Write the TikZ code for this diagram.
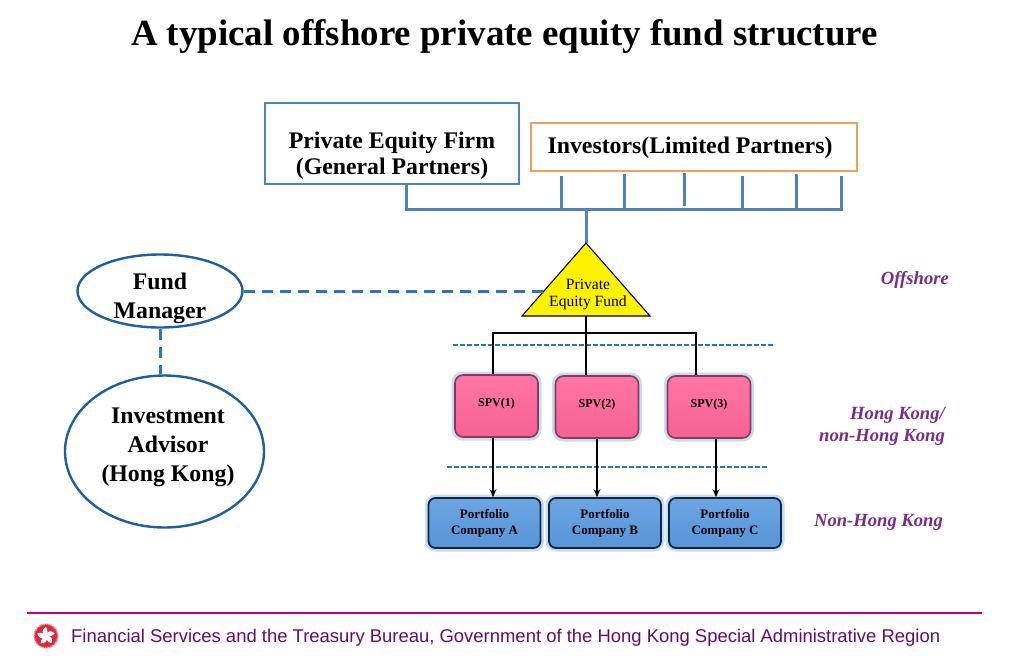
\documentclass[tikz,border=0pt]{standalone}
\usetikzlibrary{shapes.geometric,arrows.meta}
\usepackage{fontspec}
\setmainfont{Liberation Serif}
\newfontfamily\footfont{Liberation Sans}
\definecolor{frameblue}{HTML}{4F81BD}
\definecolor{frameorange}{HTML}{F0A05A}
\definecolor{dashblue}{HTML}{2E75B6}
\definecolor{ringblue}{HTML}{1F5FA0}
\definecolor{glowblue}{HTML}{C5DCF2}
\definecolor{spvpink}{HTML}{FF6699}
\definecolor{spvedge}{HTML}{8A3A58}
\definecolor{compblue}{HTML}{5B9BE0}
\definecolor{compedge}{HTML}{14283C}
\definecolor{sidepurple}{HTML}{7A2A8A}
\definecolor{footrule}{HTML}{C4007C}
\definecolor{foottext}{HTML}{660A6E}
\definecolor{emblemred}{HTML}{E0283C}
\tikzset{
	boxtext/.style={font=\fontsize{23.8}{26}\selectfont\bfseries,text=black,align=center,inner sep=0pt},
	roundtext/.style={font=\fontsize{23.8}{29}\selectfont\bfseries,text=black,align=center,inner sep=0pt},
	firmbox/.style={draw=frameblue,line width=2.7pt,minimum width=254pt,minimum height=81pt,inner sep=0pt},
	investbox/.style={draw=frameorange,line width=2.6pt,minimum width=326pt,minimum height=48pt,inner sep=0pt},
	roundnode/.style={ellipse,draw=ringblue,line width=2.4pt,inner sep=0pt},
	spvbox/.style={rounded corners=8pt,draw=spvedge,line width=1.6pt,top color=spvpink!90!white,middle color=spvpink,bottom color=spvpink!96!black,minimum width=83pt,minimum height=62pt,text depth=6.6pt,
		font=\fontsize{12}{14}\selectfont\bfseries,preaction={draw=glowblue,line width=7pt}},
	compbox/.style={rounded corners=7pt,draw=compedge,line width=1.8pt,top color=compblue!90!white,middle color=compblue,bottom color=compblue!96!black,minimum width=112pt,minimum height=50pt,align=center,
		font=\fontsize{13}{16}\selectfont\bfseries,preaction={draw=glowblue,line width=7pt}},
	sidetext/.style={font=\fontsize{18.6}{22}\selectfont\bfseries\itshape,text=sidepurple,align=right,anchor=east,inner sep=0pt},
	busline/.style={draw=frameblue,line width=3pt},
	splitline/.style={draw=dashblue,line width=1.8pt,dash pattern=on 4.5pt off 2.5pt},
	linkline/.style={draw=dashblue,line width=3pt,dash pattern=on 11pt off 7pt},
	treeline/.style={draw=black,line width=1.2pt},
	treearrow/.style={treeline,-{Stealth[length=8pt,width=7pt]}},
}
\begin{document}
\begin{tikzpicture}[x=1pt,y=-1pt]
	\useasboundingbox (0,0) rectangle (1025,665);
	\node[font=\fontsize{36.9}{40}\selectfont\bfseries] (title) at (504.5,36) {A typical offshore private equity fund structure};
	\node[firmbox] (firm) at (392,143.5) {};
	\node[boxtext] (firmtext) at (392,156) {Private Equity Firm\\(General Partners)};
	\node[investbox] (investors) at (694,147) {};
	\node[boxtext] (investtext) at (690,148) {Investors(Limited Partners)};
	\coordinate (busleft) at (406,209);
	\coordinate (busright) at (841,209);
	\coordinate (busstem) at (586,209);
	\coordinate (fundtop) at (586,243);
	\coordinate (fundleft) at (522,316);
	\coordinate (fundright) at (650,316);
	\coordinate (fundbase) at (586,316);
	\coordinate (fundjoin) at (586,333);
	\coordinate (fundside) at (543,291);
	\draw[busline] (firm.south -| busleft) -- (busleft) -- (busright) -- (841,176);
	\foreach \tickx/\ticktop/\tickend in {561/176/209,624/174/209,684/173/206,742/176/209,796/174/209}
		\draw[busline] (\tickx,\ticktop) -- (\tickx,\tickend);
	\draw[busline] (busstem) -- (fundtop);
	\draw[draw=black,line width=1.1pt,fill=yellow] (fundtop) -- (fundleft) -- (fundright) -- cycle;
	\node[font=\fontsize{15.6}{16.5}\selectfont,align=center,inner sep=0pt] (fund) at (588,294.5) {Private\\Equity Fund};
	\node[roundnode,minimum width=165pt,minimum height=73pt] (manager) at (160,291) {};
	\node[roundtext] (managertext) at (160,298) {Fund\\Manager};
	\node[roundnode,minimum width=199pt,minimum height=152pt] (advisor) at (164.5,451.5) {};
	\node[roundtext] (advisortext) at (168,447.5) {Investment\\Advisor\\(Hong Kong)};
	\draw[linkline] (manager.east) -- (fundside);
	\draw[linkline] (manager.south) -- (manager.south |- advisor.north);
	\draw[splitline] (453,345) -- (774,345);
	\draw[splitline] (447,467) -- (768,467);
	\node[spvbox] (spv1) at (496.5,406) {SPV(1)};
	\node[spvbox] (spv2) at (597,407) {SPV(2)};
	\node[spvbox] (spv3) at (709,407) {SPV(3)};
	\node[compbox] (compa) at (484.5,523) {Portfolio\\Company A};
	\node[compbox] (compb) at (605,523) {Portfolio\\Company B};
	\node[compbox] (compc) at (725,523) {Portfolio\\Company C};
	\draw[treeline] (fundbase) -- (fundjoin);
	\draw[treeline] ([xshift=-3.5pt]spv1.north) |- (fundjoin) -| ([xshift=-13pt]spv3.north);
	\draw[treeline] (fundjoin) -- ([xshift=-11pt]spv2.north);
	\draw[treearrow] ([xshift=-3.5pt]spv1.south) -- ([xshift=-3.5pt]spv1.south |- compa.north);
	\draw[treearrow] (spv2.south) -- (spv2.south |- compb.north);
	\draw[treearrow] ([xshift=7pt]spv3.south) -- ([xshift=7pt]spv3.south |- compc.north);
	\node[sidetext] (offshore) at (949,280) {Offshore};
	\node[sidetext] (hk) at (945,426) {Hong Kong/\\non-Hong Kong};
	\node[sidetext] (nonhk) at (943,522) {Non-Hong Kong};
	\draw[draw=footrule,line width=2pt] (27,613) -- (982,613);
	\node[circle,draw=emblemred!45,densely dotted,line width=1.5pt,fill=emblemred,minimum size=24pt,inner sep=0pt] (emblem) at (46,636) {};
	\foreach \petal in {18,90,162,234,306}
		\fill[white,shift={(emblem.center)},rotate=\petal] (0,0) .. controls (2.5,-5) and (7,-4) .. (9,0) .. controls (6,2) and (3,2) .. (0,0);
	\node[font=\footfont\fontsize{18.45}{22}\selectfont,text=foottext,anchor=west,inner sep=0pt] (footer) at (71,638) {Financial Services and the Treasury Bureau, Government of the Hong Kong Special Administrative Region};
\end{tikzpicture}
\end{document}
